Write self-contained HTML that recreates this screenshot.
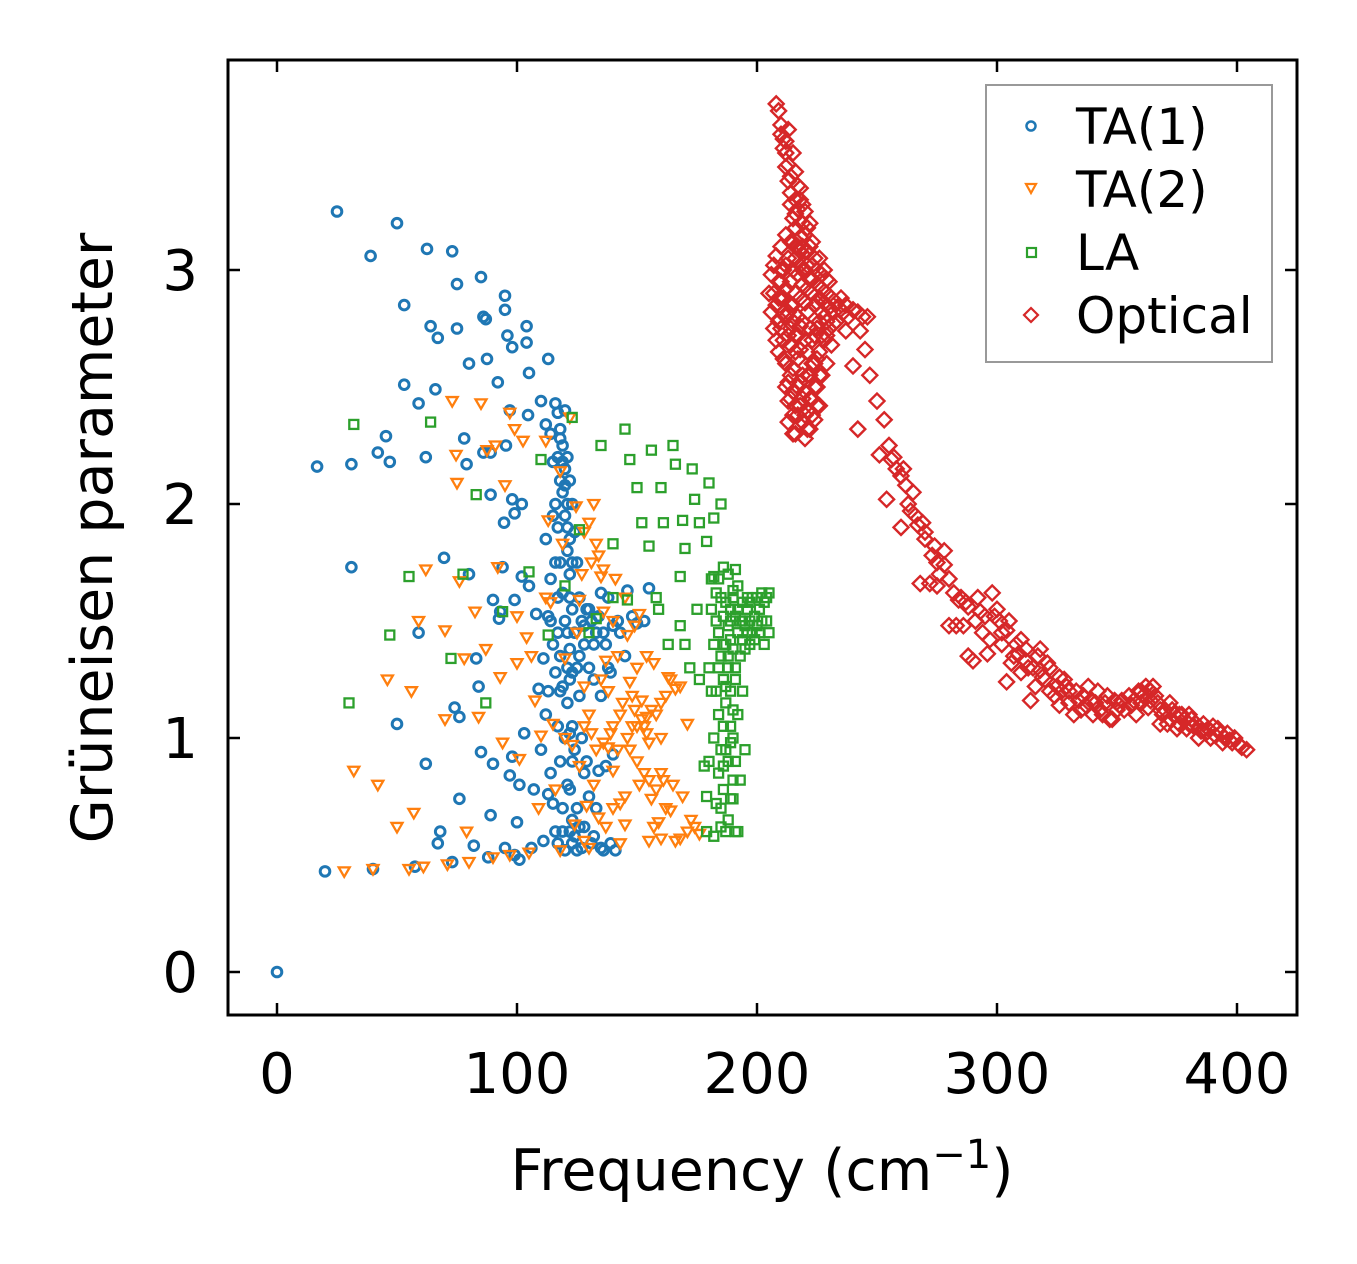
<!DOCTYPE html>
<html><head><meta charset="utf-8"><style>
html,body{margin:0;padding:0;background:#fff;}
svg{display:block;font-family:"DejaVu Sans","Liberation Sans",sans-serif;}
</style></head><body>
<svg id="chart" width="1357" height="1264" viewBox="0 0 1357 1264" xmlns="http://www.w3.org/2000/svg">
<rect width="1357" height="1264" fill="#fff"/>
<g id="marks"></g>
<g id="axes"></g>
<text x="762" y="1190" font-size="57" text-anchor="middle">Frequency (cm<tspan dy="-22" font-size="40">−1</tspan><tspan dy="22">)</tspan></text>
<text transform="translate(112,538) rotate(-90)" font-size="57" text-anchor="middle">Grüneisen parameter</text>
<g>
<rect x="986" y="85" width="286" height="277" fill="#fff" stroke="#999" stroke-width="2"/>
<circle cx="1031" cy="126" r="4.5" fill="none" stroke="#1f77b4" stroke-width="2.5"/>
<text x="1076" y="144" font-size="50">TA(1)</text>
<path d="M1026,184 L1036,184 L1031,193 Z" fill="none" stroke="#ff7f0e" stroke-width="2.2"/>
<text x="1076" y="207" font-size="50">TA(2)</text>
<rect x="1027" y="248" width="9" height="9" fill="none" stroke="#2ca02c" stroke-width="2.2"/>
<text x="1076" y="270" font-size="50">LA</text>
<path d="M1031,308 L1038,315 L1031,322 L1024,315 Z" fill="none" stroke="#d62728" stroke-width="2.2"/>
<text x="1076" y="333" font-size="50">Optical</text>
</g>
</svg>
<script>
const xTicks=[0,100,200,300,400];
const yTicks=[0,1,2,3];
const ta1=[[0,0],[16.7,2.16],[20,0.43],[25,3.25],[31,2.17],[31,1.73],[39,3.06],[40,0.44],[42,2.22],[45.4,2.29],[47,2.18],[50,3.2],[50,1.06],[53,2.85],[53,2.51],[57.5,0.45],[59,2.43],[59,1.45],[62,0.89],[62,2.2],[62.5,3.09],[64,2.76],[67,2.71],[66,2.49],[67,0.55],[69.6,1.77],[68,0.6],[73,3.08],[73,0.47],[74,1.13],[75,2.75],[75,2.94],[76,1.09],[76,0.74],[78,2.28],[79,2.17],[80,2.6],[80,1.7],[82,0.54],[83,1.34],[84,1.22],[85,2.97],[86,2.8],[87,2.79],[87.5,2.62],[85,0.94],[86,2.22],[88,0.49],[89,2.04],[89,2.22],[90,0.89],[90,1.59],[89,0.67],[92,2.52],[92.5,1.51],[93,1.54],[94,1.73],[95,2.89],[94.6,1.92],[95,0.53],[95,2.83],[95.4,2.25],[96,2.72],[97,2.4],[98,2.67],[98,2.02],[99,1.96],[99,1.59],[98,0.92],[97,0.84],[99,0.5],[100,0.64],[101,0.48],[101,0.8],[102,1.69],[102,2.0],[103,1.02],[104,2.76],[104,2.69],[104.6,2.38],[105,2.56],[105,1.65],[106,0.53],[107,0.78],
[108,1.53],[109,1.21],[110,2.44],[110,0.95],[111,1.34],[111,0.56],[112,2.34],[112,1.85],[112,1.1],[113,2.62],[113,1.52],[113,0.76],[114,2.3],[114,1.68],[114,0.85],[115,2.18],[115,1.4],[115,0.72],[116,2.43],[116,2.0],[116,1.28],[116,0.6],[117,2.39],[117,2.2],[117,1.9],[117,1.45],[117,1.05],[117,0.55],[118,2.32],[118,2.1],[118,1.75],[118,1.35],[118,0.9],[119,2.25],[119,2.05],[119,1.62],[119,1.22],[119,0.7],[120,2.4],[120,2.15],[120,1.95],[120,1.5],[120,1.0],[120,0.52],[121,2.2],[121,1.8],[121,1.3],[121,0.8],[122,2.1],[122,1.7],[122,1.25],[122,0.6],[123,2.0],[123,1.55],[123,1.05],[123,0.55],[124,1.88],[124,1.45],[124,0.95],[125,1.75],[125,1.3],[125,0.7],[126,1.6],[126,1.18],[126,0.62],[127,1.5],[127,1.0],[127,0.53],[128,1.4],[128,0.85],[129,1.55],[130,1.3],[130,0.75],[131,1.5],[132,1.25],[132,0.58],[133,1.45],[134,0.86],[135,1.62],[135,1.18],[136,0.52],[137,1.4],[138,1.6],[139,1.28],[140,0.93],[141,0.52],[142,1.5],[145,1.35],[146,1.63],[148,1.52],[150,1.49],[153,1.5],[155,1.64],[143,1.45],
[118,2.28],[119,2.18],[120,2.08],[121,2.0],[121,1.9],[122,1.85],[123,1.75],[122,1.6],[121,1.45],[122,1.38],[123,1.28],[121,1.15],[122,1.02],[123,0.9],[122,0.78],[123,0.65],[124,0.58],[125,0.52],[119,0.6],[118,1.2],[117,1.6],[116,1.75],[115,1.95],[114,1.5],[113,1.2],[128,0.62],[129,0.9],[131,0.55],[133,0.7],[135,0.53],[137,0.88],[139,0.55],[126,1.35],[128,1.48],[130,1.55],[132,1.4],[134,1.52],[136,1.45],[138,1.3],[140,1.48]];
const ta2=[[28,0.43],[40,0.44],[55,0.44],[61,0.45],[71,0.46],[80,0.47],[90,0.49],[97,0.5],[105,0.51],[118,0.52],[130,0.53],[143,0.55],[155,0.56],[166,0.56],[176,0.59],[32,0.86],[42,0.8],[46,1.25],[50,0.62],[56,1.2],[57,0.68],[59,1.5],[62,1.72],[70,1.46],[70,1.08],[73,2.44],[74.6,2.21],[75,2.09],[76,1.67],[78,1.34],[79,0.6],[82.5,1.54],[84,1.09],[85,2.43],[87,1.38],[87.5,2.23],[91,2.25],[92,1.73],[93,1.26],[94,0.98],[95,2.08],[97,2.39],[99,2.32],[100,1.52],[100,1.32],[101,0.91],[102.5,2.27],[104,1.43],[106,1.35],[107.5,1.16],[109,0.7],[110,1.01],[112,2.27],[113,1.93],[114,1.58],[115,1.06],[116,0.78],[118,2.14],[119,1.83],[120,1.34],[122,2.37],[123,0.97],[124.6,1.99],[126,1.59],[128,1.22],[129,0.71],[130,1.92],[132,2.0],[133,1.83],[134,1.78],[135,1.69],[136,1.54],[137,1.33],[138,0.96],[140,0.86],[141,1.68],[142,1.35],[143,1.1],[145,0.63],[146,1.44],[147,1.24],[148,1.05],[150,0.9],[151,1.53],[152,1.16],[154,1.09],[155,0.98],[156,0.74],[157,1.32],[159,0.64],[161,0.82],[162,1.18],[164,0.69],[166,1.21],[168,1.22],[169,0.75],[171,1.06],[172.5,0.65],[174,0.62],[140,1.05],[144,1.15],[149,1.12],[153,1.05],[158,1.1],[160,1.0],[147,0.95],[151,0.8],[163,1.26],[135,1.25],[130,1.1],[126,0.88],[138,1.2],[145,0.75],[157,0.62],[120,1.0],[112,1.6],
[150,1.05],[152,1.08],[154,1.02],[156,1.12],[148,1.18],[146,1.0],[142,0.95],[139,1.02],[136,0.98],[133,0.95],[131,1.02],[128,1.05],[153,0.85],[155,0.82],[158,0.78],[160,0.85],[162,0.7],[165,0.8],[143,0.72],[140,0.7],[137,0.62],[134,0.66],[132,0.8],[128,0.56],[124,0.63],[150,1.3],[154,1.35],[160,1.15],[164,1.25],[131,1.75],[136,1.72],[128,1.88],[127,1.7],[125,1.45],[140,1.5],[145,1.6],[149,1.48],[168,0.57],[171,0.6],[160,0.57]];
const la=[[30,1.15],[32,2.34],[47,1.44],[55,1.69],[64,2.35],[72.5,1.34],[77.5,1.7],[83,2.04],[87,1.15],[94,1.54],[105,1.71],[110,2.19],[113,1.44],[120,1.65],[123,2.37],[126,1.89],[130,1.45],[133,1.51],[135,2.25],[140,1.83],[145,2.32],[146,1.59],[147,2.19],[150,2.07],[152,1.92],[155,1.82],[156,2.23],[159,1.55],[160,2.07],[161,1.92],[165,2.25],[166,2.17],[168,1.69],[169,1.93],[170,1.81],[173,2.15],[174,2.02],[176,1.92],[179,1.84],[180,2.09],[182,1.69],
[178,0.88],[179,0.6],[180,1.3],[180,0.9],[181,1.55],[182,0.58],[182,1.0],[183,1.62],[183,1.2],[183,0.72],[184,1.68],[184,1.45],[184,1.1],[184,0.85],[185,1.6],[185,1.35],[185,0.95],[185,0.62],[186,1.52],[186,1.25],[186,1.05],[186,0.78],[187,1.58],[187,1.4],[187,1.15],[187,0.6],[188,1.7],[188,1.48],[188,1.3],[188,0.9],[189,1.55],[189,1.42],[189,1.2],[189,0.74],[190,1.6],[190,1.38],[190,1.0],[191,1.52],[191,1.3],[191,0.6],[192,1.65],[192,1.45],[192,1.1],[193,1.5],[193,1.35],[193,0.82],[194,1.58],[194,1.42],[194,1.2],[195,1.48],[195,1.38],[195,0.95],[196,1.55],[196,1.45],[197,1.5],[197,1.4],[198,1.6],[198,1.45],[199,1.52],[200,1.48],[200,1.6],[201,1.55],[202,1.62],[203,1.58],[203,1.4],[204,1.5],[205,1.45],[192,0.6],[190,0.74],[187,0.95],[179,0.75],[181,1.68],[186,1.73],[190,1.63],[185,2.0],[191,1.72],[182,1.94],[170,1.4],[172,1.3],[175,1.55],[168,1.48],[176,1.25],[163,1.4],[158,1.6],[140,1.6],
[186,1.4],[188,1.35],[189,1.05],[190,1.12],[191,1.25],[189,0.98],[187,1.22],[186,0.88],[185,0.7],[190,0.82],[191,0.9],[188,0.65],[189,1.5],[192,1.55],[194,1.5],[196,1.6],[199,1.42],[201,1.45],[202,1.5],[204,1.6],[205,1.62],[197,1.58],[183,1.5],[184,1.3],[182,1.4],[181,1.2]];
const optical=[[208,3.71],[209,3.68],[210,3.62],[211,3.56],[212,3.5],[212,3.44],[213,3.38],[214,3.33],[214,3.28],[215,3.22],[216,3.18],[215,3.12],[217,3.1],[218,3.14],[219,3.2],[220,3.25],[221,3.18],[222,3.1],[213,3.45],[211,3.52],[216,3.3],[218,3.35],[217,3.26],[210,3.58],[212,3.55],[214,3.4],[216,3.24],
[205,2.9],[206,2.98],[207,3.02],[208,2.85],[208,3.06],[209,2.78],[209,2.95],[210,3.1],[210,2.88],[211,2.7],[211,3.0],[212,2.92],[212,3.15],[213,2.82],[213,3.05],[214,2.75],[214,2.95],[215,3.0],[215,2.85],[216,2.9],[216,3.05],[217,2.8],[217,2.98],[218,3.02],[218,2.88],[219,2.94],[219,3.1],[220,2.86],[220,3.0],[221,2.92],[221,2.82],[222,2.96],[223,2.9],[223,3.02],[224,2.85],[225,2.94],[226,2.88],[227,2.92],[228,2.86],[229,2.9],[230,2.84],[231,2.88],[232,2.82],[233,2.86],[234,2.84],[235,2.88],[236,2.82],[237,2.85],[238,2.8],[240,2.83],[242,2.82],[244,2.8],[246,2.8],
[212,2.6],[213,2.52],[214,2.68],[214,2.45],[215,2.38],[215,2.58],[216,2.72],[216,2.3],[217,2.5],[217,2.62],[218,2.42],[218,2.76],[219,2.35],[219,2.55],[220,2.28],[220,2.48],[221,2.65],[221,2.4],[222,2.32],[222,2.55],[223,2.7],[223,2.45],[224,2.36],[224,2.6],[225,2.5],[225,2.75],[226,2.42],[226,2.65],[227,2.55],[228,2.7],[229,2.6],[230,2.75],[231,2.68],[233,2.78],[210,2.75],[211,2.82],[209,2.65],[213,2.35],[215,2.48],
[213,3.6],[215,3.5],[216,3.42],[217,3.36],[218,3.3],[219,3.28],[220,3.15],[221,3.08],[222,3.2],[223,3.12],[224,3.05],[225,3.0],[226,3.05],[227,2.98],[228,3.0],[229,2.96],[230,2.95],[206,2.82],[207,2.75],[208,2.7],[209,2.88],[210,2.95],[211,2.88],[212,2.8],[213,2.72],[214,2.85],[215,2.78],[216,2.65],[217,2.72],[218,2.66],[219,2.78],[220,2.7],[221,2.55],[222,2.75],[223,2.6],[224,2.72],[225,2.62],[226,2.78],[227,2.72],[228,2.8],[229,2.78],[211,2.62],[212,2.5],[213,2.44],[214,2.55],[215,2.3],[216,2.42],[217,2.38],[218,2.52],[219,2.45],[220,2.38],[221,2.32],[222,2.45],[223,2.38],[224,2.5],[225,2.42],[226,2.55],[219,3.0],[221,3.02],[223,2.96],[225,2.86],[227,2.82],[214,3.12],[216,3.1],[218,3.08],[220,3.08],[212,3.02],[210,3.0],[207,2.9],
[229,2.72],[232,2.77],[237,2.74],[240,2.59],[243,2.74],[242,2.32],[245,2.66],[247,2.55],[250,2.44],[253,2.36],[254,2.02],[251,2.21],[256,2.19],[260,2.12],[262,2.08],[260,1.9],[264,1.97],[267,1.91],[268,1.66],[270,1.85],[273,1.78],[275,1.65],[278,1.74],[280,1.68],[280,1.48],[284,1.59],[286,1.48],[290,1.33],[293,1.54],[297,1.42],[301,1.5],[304,1.24],[308,1.4],[312,1.33],[314,1.16],[318,1.29],[322,1.2],[326,1.14],[330,1.2],[335,1.12],[339,1.16],[343,1.12],[347,1.08],[351,1.14],[360,1.2],[364,1.16],[368,1.12],[372,1.08],[376,1.06],[380,1.06],[385,1.03],[391,1.01],[397,0.99],[404,0.95],
[300,1.55],[302,1.45],[305,1.5],[307,1.35],[310,1.42],[312,1.38],[315,1.3],[317,1.35],[320,1.25],[322,1.3],[325,1.22],[328,1.25],[330,1.15],[333,1.2],[336,1.18],[340,1.1],[345,1.15],[350,1.12],[355,1.18],[358,1.1],[362,1.22],[366,1.18],[370,1.12],[374,1.1],[378,1.08],[382,1.05],[388,1.04],[393,1.02],[398,0.98],[401,0.97],[285,1.6],[288,1.56],[292,1.6],[295,1.52],[298,1.62],[275,1.75],[278,1.8],[270,1.88],[266,1.95],[263,2.0],[258,2.15],[318,1.38],[324,1.18],[342,1.2],[348,1.08],[356,1.14],[364,1.2],[372,1.15],[380,1.1],[386,1.06],[395,1.0],[272,1.66],[283,1.48],[288,1.35],[296,1.36],[302,1.4],[306,1.32],[310,1.28],[316,1.22],[327,1.2],[332,1.1],[338,1.22],[352,1.16],[360,1.15],[368,1.06],[376,1.1],[384,1.0],[390,1.05],
[304,1.46],[309,1.36],[313,1.3],[319,1.26],[321,1.32],[326,1.26],[329,1.22],[334,1.16],[337,1.14],[341,1.15],[344,1.1],[346,1.18],[349,1.16],[353,1.12],[357,1.16],[359,1.2],[361,1.18],[363,1.13],[365,1.22],[367,1.15],[369,1.1],[371,1.06],[373,1.12],[375,1.04],[377,1.1],[379,1.04],[381,1.08],[383,1.06],[387,1.02],[389,1.0],[392,1.04],[394,0.98],[396,1.02],[399,1.0],[402,0.96],[282,1.62],[287,1.58],[291,1.5],[294,1.45],[299,1.52],[276,1.7],[274,1.82],[269,1.92],[265,2.05],[261,2.15],[257,2.2],[255,2.25]];

const X0=228,X1=1297,Y0=60,Y1=1015;
function sx(v){return 277+v*2.4;}
function sy(v){return 972-v*234;}
const NS="http://www.w3.org/2000/svg";
const marks=document.getElementById('marks');
const axes=document.getElementById('axes');
function mk(tag,attrs,parent){const e=document.createElementNS(NS,tag);for(const k in attrs)e.setAttribute(k,attrs[k]);parent.appendChild(e);return e;}

ta1.forEach(d=>{const e=mk('circle',{cx:sx(d[0]),cy:sy(d[1]),r:4.8,fill:'none',stroke:'#1f77b4','stroke-width':3},marks);

});
ta2.forEach(d=>{const x=sx(d[0]),y=sy(d[1]);const e=mk('path',{d:`M${x-5.5},${y-4} L${x+5.5},${y-4} L${x},${y+5.5} Z`,fill:'none',stroke:'#ff7f0e','stroke-width':2.3},marks);

});
la.forEach(d=>{const e=mk('rect',{x:sx(d[0])-4.5,y:sy(d[1])-4.5,width:9,height:9,fill:'none',stroke:'#2ca02c','stroke-width':2.3},marks);

});
optical.forEach(d=>{const x=sx(d[0]),y=sy(d[1]);const e=mk('path',{d:`M${x},${y-7.5} L${x+7.5},${y} L${x},${y+7.5} L${x-7.5},${y} Z`,fill:'none',stroke:'#d62728','stroke-width':2.4},marks);

});

const frame=mk('rect',{x:X0,y:Y0,width:X1-X0,height:Y1-Y0,fill:'none',stroke:'#000','stroke-width':3},axes);


xTicks.forEach(t=>{const x=sx(t);
mk('line',{x1:x,y1:Y1,x2:x,y2:Y1-12,stroke:'#000','stroke-width':2.5},axes);
mk('line',{x1:x,y1:Y0,x2:x,y2:Y0+12,stroke:'#000','stroke-width':2.5},axes);
const l=mk('text',{x:x,y:1093,'font-size':56,'text-anchor':'middle'},axes);l.textContent=t;

});
yTicks.forEach(t=>{const y=sy(t);
mk('line',{x1:X0,y1:y,x2:X0+12,y2:y,stroke:'#000','stroke-width':2.5},axes);
mk('line',{x1:X1,y1:y,x2:X1-12,y2:y,stroke:'#000','stroke-width':2.5},axes);
const l=mk('text',{x:198,y:y+20,'font-size':56,'text-anchor':'end'},axes);l.textContent=t;

});
</script>
</body></html>
